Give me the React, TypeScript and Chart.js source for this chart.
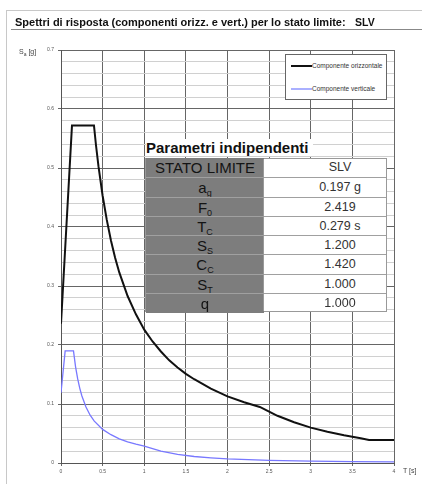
import React, { useEffect, useRef } from "react";
import { Chart, registerables } from "chart.js";

Chart.register(...registerables);

// Horizontal component (componente orizzontale): period T [s] and Sa [g]
const periodsH = [0, 0.132, 0.396, 0.42, 0.45, 0.5, 0.55, 0.6, 0.65, 0.7, 0.8, 0.9, 1.0, 1.1, 1.2, 1.3, 1.4, 1.5, 1.6, 1.8, 2.0, 2.2, 2.388, 2.5, 2.6, 2.8, 3.0, 3.2, 3.4, 3.6, 3.7, 4.0];
const saH = [0.236, 0.572, 0.572, 0.539, 0.503, 0.453, 0.412, 0.377, 0.348, 0.323, 0.283, 0.252, 0.226, 0.206, 0.189, 0.174, 0.162, 0.151, 0.142, 0.126, 0.113, 0.103, 0.095, 0.087, 0.080, 0.069, 0.060, 0.053, 0.047, 0.042, 0.039, 0.039];

// Vertical component (componente verticale)
const periodsV = [0, 0.05, 0.15, 0.175, 0.2, 0.225, 0.25, 0.3, 0.35, 0.4, 0.5, 0.6, 0.7, 0.8, 0.9, 1.0, 1.2, 1.4, 1.6, 1.8, 2.0, 2.5, 3.0, 3.5, 4.0];
const saV = [0.119, 0.19, 0.19, 0.163, 0.143, 0.127, 0.114, 0.095, 0.081, 0.071, 0.057, 0.048, 0.041, 0.036, 0.032, 0.0285, 0.020, 0.0145, 0.011, 0.0088, 0.0071, 0.0046, 0.0032, 0.0023, 0.0018];

const seriesNames = ["Componente orizzontale", "Componente verticale"];

const paramSymbols = [["a", "g"], ["F", "0"], ["T", "C"], ["S", "S"], ["C", "C"], ["S", "T"], ["q", ""]];
const paramValues = ["0.197 g", "2.419", "0.279 s", "1.200", "1.420", "1.000", "1.000"];

const FONT = "'Liberation Sans', Arial, sans-serif";

const isMajor = (v: number) => Math.abs(v * 10 - Math.round(v * 10)) < 1e-6;

export default function App() {
  const ref = useRef<HTMLCanvasElement>(null);

  useEffect(() => {
    if (!ref.current) return;
    const chart = new Chart(ref.current, {
      type: "line",
      data: {
        datasets: [
          {
            label: seriesNames[1],
            data: periodsV.map((t, i) => ({ x: t, y: saV[i] })),
            borderColor: "#7878ff",
            borderWidth: 1.3,
            pointRadius: 0,
            fill: false,
            tension: 0,
          },
          {
            label: seriesNames[0],
            data: periodsH.map((t, i) => ({ x: t, y: saH[i] })),
            borderColor: "#111111",
            borderWidth: 2,
            pointRadius: 0,
            fill: false,
            tension: 0,
          },
        ],
      },
      options: {
        animation: false,
        responsive: false,
        events: [],
        layout: { padding: { top: 50, right: 28, left: 0, bottom: 0 } },
        plugins: { legend: { display: false }, tooltip: { enabled: false } },
        scales: {
          x: {
            type: "linear",
            min: 0,
            max: 4,
            ticks: {
              stepSize: 0.5,
              autoSkip: false,
              maxRotation: 0,
              padding: 3,
              color: "#555",
              font: { size: 5, family: FONT },
              callback: (v: any) => String(Math.round(Number(v) * 10) / 10),
            },
            grid: { color: "#666", tickLength: 3, lineWidth: 1 },
            border: { color: "#555" },
            afterFit: (s: any) => {
              s.height = 21;
            },
          },
          y: {
            type: "linear",
            min: 0,
            max: 0.7,
            ticks: {
              stepSize: 0.02,
              autoSkip: false,
              padding: 4,
              color: "#555",
              font: { size: 5, family: FONT },
              callback: (v: any) => {
                const n = Number(v);
                if (!isMajor(n)) return "";
                return n === 0 ? "0" : n.toFixed(1);
              },
            },
            grid: {
              color: (ctx: any) => (isMajor(ctx.tick.value) ? "#666" : "#d0d0d0"),
              tickColor: (ctx: any) => (isMajor(ctx.tick.value) ? "#666" : "rgba(0,0,0,0)"),
              tickLength: 3,
              lineWidth: 1,
            },
            border: { color: "#555" },
            afterFit: (s: any) => {
              s.width = 61;
            },
          },
        },
      },
    });
    return () => chart.destroy();
  }, []);

  const rowH = 154 / 8;

  return (
    <div
      style={{
        position: "absolute",
        left: 0,
        top: 0,
        width: 422,
        height: 484,
        background: "#fff",
        overflow: "hidden",
        fontFamily: FONT,
      }}
    >
      <canvas ref={ref} width={422} height={484} style={{ position: "absolute", left: 0, top: 0 }} />

      {/* outer frame */}
      <div style={{ position: "absolute", left: 6, top: 10, width: 416, height: 0, borderTop: "1px solid #c8c8c8" }} />
      <div style={{ position: "absolute", left: 6, top: 10, width: 0, height: 474, borderLeft: "1px solid #c8c8c8" }} />

      {/* title */}
      <div
        style={{
          position: "absolute",
          left: 15,
          top: 16,
          fontSize: 11,
          fontWeight: "bold",
          color: "#111",
          whiteSpace: "nowrap",
        }}
      >
        Spettri di risposta (componenti orizz. e vert.) per lo stato limite:
      </div>
      <div style={{ position: "absolute", left: 355, top: 16, fontSize: 10.5, fontWeight: "bold", color: "#111" }}>SLV</div>
      <div style={{ position: "absolute", left: 11, top: 29, width: 411, height: 0, borderTop: "1px solid #888" }} />

      {/* axis titles */}
      <div style={{ position: "absolute", left: 19, top: 48, fontSize: 7, color: "#444", whiteSpace: "nowrap" }}>
        S<sub style={{ fontSize: 5 }}>a</sub> [g]
      </div>
      <div style={{ position: "absolute", left: 403, top: 467, fontSize: 7, color: "#444", whiteSpace: "nowrap" }}>
        T [s]
      </div>

      {/* legend */}
      <div
        style={{
          position: "absolute",
          left: 285,
          top: 54,
          width: 100,
          height: 44,
          border: "1px solid #666",
          background: "#fff",
        }}
      >
        <div style={{ position: "absolute", left: 5, top: 10, width: 21, height: 2, background: "#111" }} />
        <div style={{ position: "absolute", left: 26, top: 7, fontSize: 6.5, color: "#333", whiteSpace: "nowrap" }}>
          {seriesNames[0]}
        </div>
        <div style={{ position: "absolute", left: 5, top: 33, width: 21, height: 2, background: "#aab0ff" }} />
        <div style={{ position: "absolute", left: 26, top: 30, fontSize: 6.5, color: "#333", whiteSpace: "nowrap" }}>
          {seriesNames[1]}
        </div>
      </div>

      {/* parameter table */}
      <div
        style={{
          position: "absolute",
          left: 146,
          top: 139,
          fontSize: 15,
          fontWeight: "bold",
          color: "#111",
          whiteSpace: "nowrap",
          background: "#fff",
          paddingRight: 4,
        }}
      >
        Parametri indipendenti
      </div>
      <div
        style={{
          position: "absolute",
          left: 145,
          top: 158,
          width: 242,
          height: 154,
          background: "#fff",
          border: "1px solid #999",
          boxSizing: "border-box",
        }}
      >
        {[["STATO LIMITE", ""], ...paramSymbols].map((sym, i) => (
          <div
            key={i}
            style={{
              position: "absolute",
              left: 0,
              top: i * rowH - 1,
              width: 240,
              height: rowH,
              boxSizing: "border-box",
              borderTop: i === 0 ? "none" : "1px solid #a0a0a0",
            }}
          >
            <div
              style={{
                position: "absolute",
                left: 0,
                top: 0,
                width: 118,
                height: rowH,
                background: "#7d7d7d",
                color: "#141414",
                fontSize: 15,
                textAlign: "center",
                lineHeight: `${rowH}px`,
                whiteSpace: "nowrap",
              }}
            >
              {sym[0]}
              {sym[1] ? <sub style={{ fontSize: 9, verticalAlign: "-3px", lineHeight: 0 }}>{sym[1]}</sub> : null}
            </div>
            <div
              style={{
                position: "absolute",
                left: 148,
                top: 0,
                width: 92,
                height: rowH,
                color: "#333",
                fontSize: 12.5,
                textAlign: "center",
                lineHeight: `${rowH}px`,
                whiteSpace: "nowrap",
              }}
            >
              {i === 0 ? "SLV" : paramValues[i - 1]}
            </div>
          </div>
        ))}
        <div style={{ position: "absolute", left: 117, top: 0, width: 1, height: 152, background: "#999" }} />
      </div>
    </div>
  );
}
